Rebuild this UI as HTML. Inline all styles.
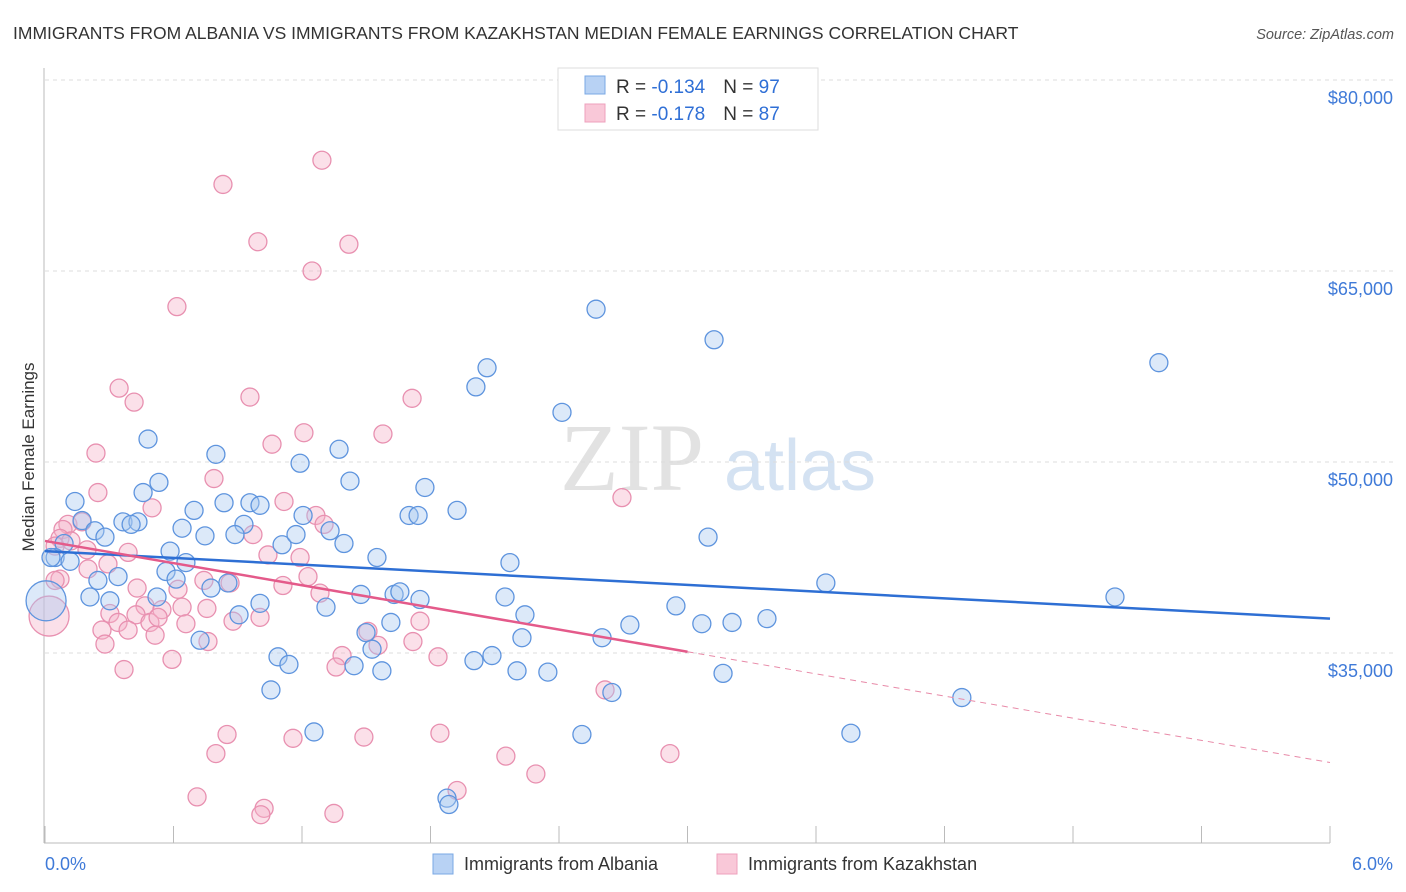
<!DOCTYPE html>
<html><head><meta charset="utf-8"><style>
body{margin:0;background:#fff;font-family:"Liberation Sans",sans-serif;}
svg{display:block}
</style></head><body>
<svg id="chart" width="1406" height="892" xmlns="http://www.w3.org/2000/svg" font-family="Liberation Sans, sans-serif">
<text x="13" y="39" font-size="17.5" fill="#333">IMMIGRANTS FROM ALBANIA VS IMMIGRANTS FROM KAZAKHSTAN MEDIAN FEMALE EARNINGS CORRELATION CHART</text>
<text x="1394" y="39" font-size="14.5" fill="#555" font-style="italic" text-anchor="end">Source: ZipAtlas.com</text>
<g>
<text x="632" y="490" font-size="96" font-family="Liberation Serif, serif" fill="#e2e2e2" text-anchor="middle">ZIP</text>
<text x="800" y="490" font-size="72" fill="#d4e2f2" text-anchor="middle">atlas</text>
</g>
<g id="grid"></g>
<g id="axes"></g>
<g id="pink"></g>
<g id="blue"></g>
<g id="trends"></g>
<g>
<rect x="558" y="68" width="260" height="62" fill="#fff" stroke="#ddd"/>
<rect x="585" y="76" width="20" height="18" fill="#b8d2f4" stroke="#7aa8e4"/>
<rect x="585" y="104" width="20" height="18" fill="#f9c8d8" stroke="#eea0bc"/>
<text x="616" y="93" font-size="19" fill="#333">R = <tspan fill="#2f6fd6">-0.134</tspan><tspan dx="18">N = </tspan><tspan fill="#2f6fd6">97</tspan></text>
<text x="616" y="120" font-size="19" fill="#333">R = <tspan fill="#2f6fd6">-0.178</tspan><tspan dx="18">N = </tspan><tspan fill="#2f6fd6">87</tspan></text>
</g>
<text transform="translate(34,457) rotate(-90)" font-size="17" fill="#333" text-anchor="middle">Median Female Earnings</text>
<text x="45" y="870" font-size="18" fill="#3f7ad8">0.0%</text>
<text x="1393" y="870" font-size="18" fill="#3f7ad8" text-anchor="end">6.0%</text>
<g>
<rect x="433" y="854" width="20" height="20" fill="#b8d2f4" stroke="#7aa8e4"/>
<text x="464" y="870" font-size="18" fill="#333">Immigrants from Albania</text>
<rect x="717" y="854" width="20" height="20" fill="#f9c8d8" stroke="#eea0bc"/>
<text x="748" y="870" font-size="18" fill="#333">Immigrants from Kazakhstan</text>
</g>
</svg>
<script>
const yTicks=[80000,65000,50000,35000];
const yTickLabels=["$80,000","$65,000","$50,000","$35,000"];
const xTicks=[0,0.6,1.2,1.8,2.4,3.0,3.6,4.2,4.8,5.4,6.0];
const blueX=[0.005,2.573,3.124,5.201,2.064,2.012,2.414,0.481,0.798,1.373,1.191,0.532,1.424,1.774,0.140,0.458,0.696,0.836,0.957,1.004,1.924,1.700,1.742,1.205,0.173,0.364,0.434,0.402,0.640,0.929,1.331,0.233,0.280,0.089,0.747,0.887,1.107,1.172,1.396,3.096,0.584,0.047,0.117,0.658,1.550,2.171,0.565,0.341,0.247,0.612,3.646,0.854,0.775,0.210,0.303,0.523,1.475,1.630,1.657,1.751,2.148,2.946,4.996,1.004,1.312,0.906,2.241,1.615,2.731,3.067,3.208,3.371,1.499,2.227,0.724,2.601,1.527,1.088,1.139,1.443,2.003,2.087,1.573,2.204,2.348,3.166,1.055,2.647,4.281,1.256,2.507,3.763,1.877,1.886,0.028];
const blueY=[39.1,62.0,59.6,57.8,57.4,55.9,53.9,51.8,50.6,51.0,49.9,48.4,48.5,48.0,46.9,47.6,46.2,46.8,46.8,46.6,46.2,45.8,45.8,45.8,45.4,45.3,45.3,45.1,44.8,45.1,44.6,44.6,44.1,43.6,44.2,44.3,43.5,44.3,43.6,44.1,43.0,42.5,42.2,42.1,42.5,42.1,41.4,41.0,40.7,40.8,40.5,40.5,40.1,39.4,39.1,39.4,39.6,39.6,39.8,39.2,39.4,38.7,39.4,38.9,38.6,38.0,38.0,37.4,37.2,37.3,37.4,37.7,36.6,36.2,36.0,36.2,35.3,34.7,34.1,34.0,34.4,34.8,33.6,33.6,33.5,33.4,32.1,31.9,31.5,28.8,28.6,28.7,23.6,23.1,42.5];
const pinkX=[0.019,0.070,1.293,0.831,0.994,1.419,1.247,0.616,0.346,0.416,0.957,1.714,0.238,1.578,1.060,1.209,0.789,0.247,0.500,2.694,1.116,1.265,1.303,0.107,0.084,0.173,0.070,0.047,0.121,0.196,0.388,0.971,1.041,1.191,0.294,0.201,0.047,0.430,0.621,0.742,0.864,1.111,1.228,1.284,0.467,0.546,0.640,0.303,0.341,0.425,0.490,0.528,0.658,0.756,0.878,1.004,1.751,0.266,0.388,0.514,1.508,0.280,0.761,1.555,0.593,0.369,1.387,1.718,1.835,1.359,2.615,0.850,1.158,1.489,1.844,0.798,2.152,2.918,2.292,1.924,0.710,1.023,1.008,1.349];
const pinkY=[37.9,40.8,73.7,71.8,67.3,67.1,65.0,62.2,55.8,54.7,55.1,55.0,50.7,52.2,51.4,52.3,48.7,47.6,46.4,47.2,46.9,45.8,45.1,45.1,44.7,45.3,44.0,43.4,43.8,43.1,42.9,44.3,42.7,42.5,42.0,41.6,40.7,40.1,40.0,40.7,40.5,40.3,41.0,39.7,38.7,38.4,38.6,38.1,37.4,38.0,37.4,37.8,37.3,38.5,37.5,37.8,37.5,36.8,36.8,36.4,36.7,35.7,35.9,35.6,34.5,33.7,34.8,35.9,34.7,33.9,32.1,28.6,28.3,28.4,28.7,27.1,26.9,27.1,25.5,24.2,23.7,22.8,22.3,22.4];
const blueTrend=[43.0,37.7];
const pinkTrend=[43.8,26.4];
const pinkSolidEnd=3.0;

const X0=45,X1=1330,Y80=80,PXK=191/15;
const sx=v=>X0+(v/6)*(X1-X0);
const sy=k=>Y80+(80-k)*PXK;
const NS="http://www.w3.org/2000/svg";
function mk(tag,attrs,parent){const e=document.createElementNS(NS,tag);for(const k in attrs)e.setAttribute(k,attrs[k]);parent.appendChild(e);return e;}
const grid=document.getElementById('grid'),axes=document.getElementById('axes');
yTicks.forEach((t,i)=>{
  const y=sy(t/1000);
  const l=mk('line',{x1:X0,x2:1393,y1:y,y2:y,stroke:'#dcdcdc','stroke-dasharray':'4,4'},grid);
  
  
  const tx=mk('text',{x:1393,y:y+24,'font-size':18,fill:'#3f7ad8','text-anchor':'end'},axes);
  tx.textContent=yTickLabels[i];
  
  
});
const ya=mk('line',{x1:44,x2:44,y1:68,y2:843,stroke:'#bbb'},axes);


const xa=mk('line',{x1:44,x2:1330,y1:843,y2:843,stroke:'#bbb'},axes);


xTicks.forEach(t=>{
  const tk=mk('line',{x1:sx(t),x2:sx(t),y1:826,y2:843,stroke:'#bbb'},axes);
  
  
});
function pts(xs,ys,g,fill,stroke,name){
  xs.forEach((x,i)=>{
    const r=i===0?20:9;
    const c=mk('circle',{cx:sx(x),cy:sy(ys[i]),r:r,fill:fill,'fill-opacity':0.4,stroke:stroke,'stroke-width':1.3},g);
    
    
  });
}
pts(pinkX,pinkY,document.getElementById('pink'),'#f6b2c8','#e890b0','kazakhstan-point');
pts(blueX,blueY,document.getElementById('blue'),'#a8c8f0','#5e94de','albania-point');
const tr=document.getElementById('trends');
const bl=mk('line',{x1:sx(0),y1:sy(blueTrend[0]),x2:sx(6),y2:sy(blueTrend[1]),stroke:'#2e6fd4','stroke-width':2.5},tr);


const pm=pinkTrend[0]+(pinkTrend[1]-pinkTrend[0])*pinkSolidEnd/6;
const pl=mk('line',{x1:sx(0),y1:sy(pinkTrend[0]),x2:sx(pinkSolidEnd),y2:sy(pm),stroke:'#e45a8a','stroke-width':2.5},tr);


const pd=mk('line',{x1:sx(pinkSolidEnd),y1:sy(pm),x2:sx(6),y2:sy(pinkTrend[1]),stroke:'#e88aa8','stroke-width':1,'stroke-dasharray':'6,5'},tr);


</script>
</body></html>
